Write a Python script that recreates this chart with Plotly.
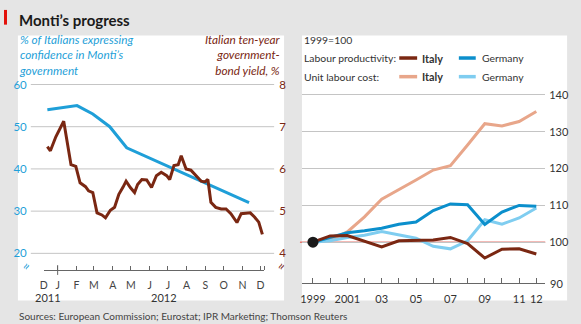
import plotly.graph_objects as go

# ---------------- data ----------------
poll_dates = ["2011-12-15", "2012-02-02", "2012-02-28", "2012-03-27", "2012-04-24", "2012-11-12"]
poll_conf = [54, 55, 53, 50, 45, 32]

bond_dates = ["2011-12-15", "2011-12-20", "2011-12-29", "2012-01-11", "2012-01-23",
              "2012-01-31", "2012-02-07", "2012-02-16", "2012-02-21", "2012-02-28",
              "2012-03-06", "2012-03-14", "2012-03-20", "2012-03-28", "2012-04-04",
              "2012-04-11", "2012-04-18", "2012-04-23", "2012-04-30", "2012-05-07",
              "2012-05-12", "2012-05-19", "2012-05-27", "2012-06-04", "2012-06-12",
              "2012-06-20", "2012-06-29", "2012-07-04", "2012-07-11", "2012-07-18",
              "2012-07-23", "2012-07-31", "2012-08-08", "2012-08-17", "2012-08-25",
              "2012-08-31", "2012-09-05", "2012-09-10", "2012-09-18", "2012-09-27",
              "2012-10-05", "2012-10-13", "2012-10-23", "2012-10-30", "2012-11-07",
              "2012-11-14", "2012-11-21", "2012-11-28", "2012-12-04"]
bond_yield = [6.53, 6.43, 6.76, 7.13, 6.10, 6.06, 5.67, 5.58, 5.48, 5.44,
              4.96, 4.91, 4.84, 5.02, 5.09, 5.40, 5.57, 5.71, 5.56, 5.44,
              5.63, 5.75, 5.74, 5.56, 5.84, 5.92, 5.84, 5.75, 6.08, 6.10,
              6.31, 6.00, 5.97, 5.83, 5.71, 5.69, 5.75, 5.21, 5.09, 5.05,
              5.05, 4.94, 4.73, 4.94, 4.95, 4.96, 4.86, 4.74, 4.45]

month_ticks = ["2011-12-09", "2012-01-01", "2012-02-01", "2012-03-01", "2012-04-01",
               "2012-05-01", "2012-06-01", "2012-07-01", "2012-08-01", "2012-09-01",
               "2012-10-01", "2012-11-01", "2012-12-01", "2012-12-07"]
month_labels = ["D", "J", "F", "M", "A", "M", "J", "J", "A", "S", "O", "N", "D", ""]
pct_ticks = [20, 30, 40, 50, 60]
yield_ticks = [4, 5, 6, 7, 8]

years = list(range(1999, 2013))
year_labels = ["1999", "", "2001", "", "03", "", "05", "", "07", "", "09", "", "11", "12"]
index_ticks = [100, 110, 120, 130, 140]
it_prod = [100, 101.7, 101.8, 100.2, 98.7, 100.4, 100.5, 100.6, 101.3, 99.6, 95.7, 98.1, 98.2, 96.8]
de_prod = [100, 101.3, 102.6, 103.1, 103.8, 104.9, 105.5, 108.6, 110.4, 110.2, 104.8, 108.2, 110.0, 109.8]
it_ulc = [100, 100.6, 102.8, 106.9, 111.7, 114.2, 116.9, 119.6, 120.8, 126.4, 132.2, 131.6, 132.8, 135.5]
de_ulc = [100, 100.4, 101.3, 101.9, 102.9, 102.0, 101.1, 98.9, 98.2, 100.4, 106.1, 104.9, 106.6, 109.3]

# ---------------- style ----------------
W, H = 581, 324
def px(x): return x / W
def py(y): return 1 - y / H

FONT = "Lato"
BG = "#e5e5e5"
GRID = "#c4c4c4"
BLUE = "#1f9fd8"
BROWN = "#7a2712"
DBLUE = "#0b8fcc"
LBLUE = "#7fcdf0"
SALMON = "#e8a68a"
RED = "#e8776f"
AXIS = "#666666"
TXT = "#333333"

fig = go.Figure()

# left chart
fig.add_trace(go.Scatter(x=poll_dates, y=poll_conf, mode="lines",
                         line=dict(color=BLUE, width=3), xaxis="x", yaxis="y",
                         hoverinfo="skip"))
fig.add_trace(go.Scatter(x=bond_dates, y=bond_yield, mode="lines",
                         line=dict(color=BROWN, width=3), xaxis="x", yaxis="y2",
                         hoverinfo="skip"))
# right chart
for vals, col in [(it_ulc, SALMON), (de_ulc, LBLUE), (de_prod, DBLUE), (it_prod, BROWN)]:
    fig.add_trace(go.Scatter(x=years, y=vals, mode="lines",
                             line=dict(color=col, width=3), xaxis="x2", yaxis="y3",
                             hoverinfo="skip"))
fig.add_trace(go.Scatter(x=[years[0]], y=[it_prod[0]], mode="markers",
                         marker=dict(color="#1a1a1a", size=11), xaxis="x2", yaxis="y3",
                         hoverinfo="skip"))

shapes = [
    dict(type="rect", xref="paper", yref="paper", x0=px(14), x1=px(282), y0=py(300), y1=py(30),
         fillcolor="white", line=dict(width=0), layer="below"),
    dict(type="rect", xref="paper", yref="paper", x0=px(300), x1=px(567), y0=py(300), y1=py(30),
         fillcolor="white", line=dict(width=0), layer="below"),
    dict(type="rect", xref="paper", yref="paper", x0=0, x1=px(3), y0=py(19), y1=py(4),
         fillcolor="#e3120b", line=dict(width=0), layer="below"),
    # year-boundary tick (longer)
    dict(type="line", xref="x", yref="paper", x0="2012-01-01", x1="2012-01-01", y0=py(274), y1=py(264),
         line=dict(color=AXIS, width=1)),
    # red 100 line
    dict(type="line", xref="paper", yref="y3", x0=px(298), x1=px(545), y0=100, y1=100,
         line=dict(color=RED, width=1.5), layer="below"),
]
# left-chart gridlines (wider than the date axis itself)
for v in pct_ticks:
    shapes.append(dict(type="line", xref="paper", yref="y", x0=px(27), x1=px(272), y0=v, y1=v,
                       line=dict(color=GRID, width=1), layer="below"))
# legend samples
for (x0, x1, yy, col) in [(398, 416, 53, BROWN), (458, 475, 53, DBLUE),
                          (398, 416, 72, SALMON), (458, 475, 72, LBLUE)]:
    shapes.append(dict(type="line", xref="paper", yref="paper", x0=px(x0), x1=px(x1),
                       y0=py(yy), y1=py(yy), line=dict(color=col, width=3.5)))

def ann(text, x, y, size=11, color=TXT, xanchor="left", yanchor="middle", **kw):
    return dict(text=text, x=px(x), y=py(y), xref="paper", yref="paper", showarrow=False,
                xanchor=xanchor, yanchor=yanchor, font=dict(family=FONT, size=size, color=color), **kw)

annotations = [
    ann("<b>Monti’s progress</b>", 13, 14, size=15, color="#1a1a1a"),
    ann("<i>% of Italians expressing<br>confidence in Monti’s<br>government</i>", 13, 49.5,
        size=11.8, color=BLUE, align="left"),
    ann("<i>Italian ten-year<br>government-<br>bond yield, %</i>", 281, 49.5,
        size=11.8, color=BROWN, xanchor="right", align="right"),
    ann("2011", 29, 297, size=11),
    ann("2012", 146, 297, size=11),
    ann("≈", 22, 265, size=13, color=BLUE, xanchor="center", textangle=-60),
    ann("≈", 279, 265, size=13, color=BROWN, xanchor="center", textangle=-60),
    ann("1999=100", 300, 35, size=10.4),
    ann("Labour productivity:", 300, 53, size=10.4),
    ann("Unit labour cost:", 300, 72, size=10.4),
    ann("<b>Italy</b>", 419, 53, size=10.8),
    ann("Germany", 479, 53, size=10.4),
    ann("<b>Italy</b>", 419, 72, size=10.8),
    ann("Germany", 479, 72, size=10.4),
    ann("90", 548, 282.5, size=11),
    ann("Sources: European Commission; Eurostat; IPR Marketing; Thomson Reuters", 13, 316,
        size=10, color="#444444"),
]

fig.update_layout(
    width=W, height=H, margin=dict(l=0, r=0, t=0, b=0),
    paper_bgcolor=BG, plot_bgcolor="rgba(0,0,0,0)", showlegend=False,
    font=dict(family=FONT, size=11, color=TXT),
    shapes=shapes, annotations=annotations,
    xaxis=dict(type="date", domain=[px(40), px(262)], anchor="y",
               range=[month_ticks[0], month_ticks[-1]],
               tickmode="array", tickvals=month_ticks, ticktext=month_labels,
               ticklabelmode="period",
               ticks="inside", ticklen=4, tickcolor=AXIS, tickwidth=1,
               showline=True, linecolor=AXIS, linewidth=1,
               showgrid=False, zeroline=False, ticklabelstandoff=5,
               tickfont=dict(family=FONT, size=10.5, color="#444")),
    yaxis=dict(domain=[py(269), py(79.1)], anchor="x", range=[16.05, 60.2],
               tickvals=pct_ticks, showgrid=False,
               zeroline=False, showline=False, ticks="", ticklabelstandoff=16,
               tickfont=dict(family=FONT, size=11.5, color=BLUE)),
    yaxis2=dict(overlaying="y", side="right", anchor="x", range=[3.605, 8.02],
                tickvals=yield_ticks, showgrid=False, zeroline=False, showline=False,
                ticks="", ticklabelstandoff=14,
                tickfont=dict(family=FONT, size=11.5, color=BROWN)),
    xaxis2=dict(domain=[px(300), px(545)], anchor="y3", range=[1998.36, 2012.52],
                tickmode="array", tickvals=years, ticktext=year_labels,
                ticks="inside", ticklen=5, tickcolor=AXIS, showgrid=False, zeroline=False,
                showline=True, linecolor=AXIS, linewidth=1, ticklabelstandoff=6,
                tickfont=dict(family=FONT, size=11, color=TXT)),
    yaxis3=dict(domain=[py(282.3), py(81.3)], anchor="x2", side="right", range=[88.9, 142.5],
                tickvals=index_ticks, showgrid=True, gridcolor=GRID, gridwidth=1,
                zeroline=False, showline=False, ticks="", ticklabelstandoff=3,
                tickfont=dict(family=FONT, size=11, color=TXT)),
)

fig.write_html("out.html")
